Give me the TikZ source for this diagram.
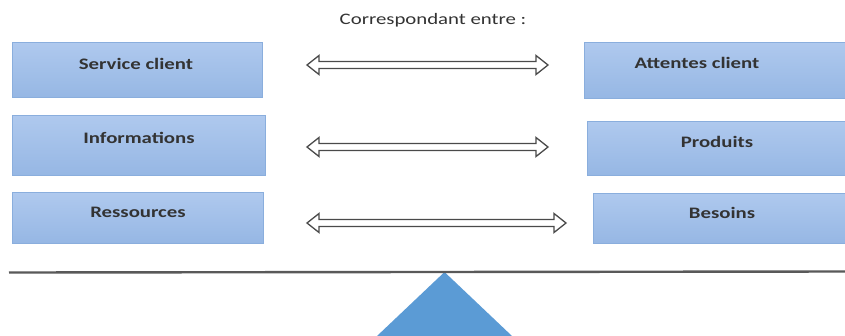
\documentclass[tikz,border=0pt]{standalone}
\usepackage{fontspec}
\newfontfamily\labfont{Carlito}[FakeStretch=1.3]
\usetikzlibrary{calc}

\definecolor{boxtop}{HTML}{AFC9EE}
\definecolor{boxbot}{HTML}{96B7E4}
\definecolor{boxedge}{HTML}{8AAEDD}
\definecolor{fulcrum}{HTML}{5B9BD5}
\definecolor{inkgray}{HTML}{333333}
\definecolor{arrowgray}{HTML}{4A4A4A}

\tikzset{
  box/.style={rectangle, draw=boxedge, line width=0.8pt,
    top color=boxtop, bottom color=boxbot, inner sep=0pt},
  lab/.style={font=\labfont\bfseries\fontsize{16}{18}\selectfont,
    text=inkgray, inner sep=0pt},
  titletext/.style={font=\labfont\fontsize{16}{18}\selectfont,
    text=inkgray, inner sep=0pt},
  arrowline/.style={draw=arrowgray, fill=white, line width=1.3pt,
    line join=miter},
}

% outlined two-headed arrow between two named coordinates
\newcommand{\dblarrow}[2]{%
  \draw[arrowline] (#1) -- ($(#1)+(12,-9.5)$) -- ($(#1)+(12,-3.5)$)
    -- ($(#2)+(-12,-3.5)$) -- ($(#2)+(-12,-9.5)$) -- (#2)
    -- ($(#2)+(-12,9.5)$) -- ($(#2)+(-12,3.5)$)
    -- ($(#1)+(12,3.5)$) -- ($(#1)+(12,9.5)$) -- cycle;}

\begin{document}
\begin{tikzpicture}[x=1pt, y=-1pt]
  \useasboundingbox[fill=white] (0,0) rectangle (845,335);

  % heading
  \node[titletext] (title) at (433,20) {Correspondant entre :};

  % left column
  \node[box, minimum width=250pt, minimum height=55pt] (l1) at (137,69.5) {};
  \node[box, minimum width=253pt, minimum height=60pt] (l2) at (138.5,145) {};
  \node[box, minimum width=251pt, minimum height=51pt] (l3) at (137.5,217.5) {};
  \node[lab] (tl1) at (136,64) {Service client};
  \node[lab] (tl2) at (139,138) {Informations};
  \node[lab] (tl3) at (138,212) {Ressources};

  % right column
  \node[box, minimum width=262pt, minimum height=56pt] (r1) at (715,70) {};
  \node[box, minimum width=262pt, minimum height=54pt] (r2) at (718,148) {};
  \node[box, minimum width=256pt, minimum height=50pt] (r3) at (721,218) {};
  \node[lab] (tr1) at (697,63) {Attentes client};
  \node[lab] (tr2) at (717,142) {Produits};
  \node[lab] (tr3) at (722,213) {Besoins};

  % arrow ends
  \coordinate (a1l) at (307,65);  \coordinate (a1r) at (548,65);
  \coordinate (a2l) at (307,147); \coordinate (a2r) at (548,147);
  \coordinate (a3l) at (307,223); \coordinate (a3r) at (566,223);
  \dblarrow{a1l}{a1r}
  \dblarrow{a2l}{a2r}
  \dblarrow{a3l}{a3r}

  % balance: fulcrum and beam
  \begin{scope}
    \clip (0,0) rectangle (845,335);
    \coordinate (apex) at (444.5,272);
    \fill[fulcrum] (apex) -- (377,336) -- (512,336) -- cycle;
  \end{scope}
  \coordinate (beamL) at (9,272.5);
  \coordinate (beamR) at (845,271.5);
  \draw[line width=2.4pt, color=black!65] (beamL) -- (beamR);
\end{tikzpicture}
\end{document}
